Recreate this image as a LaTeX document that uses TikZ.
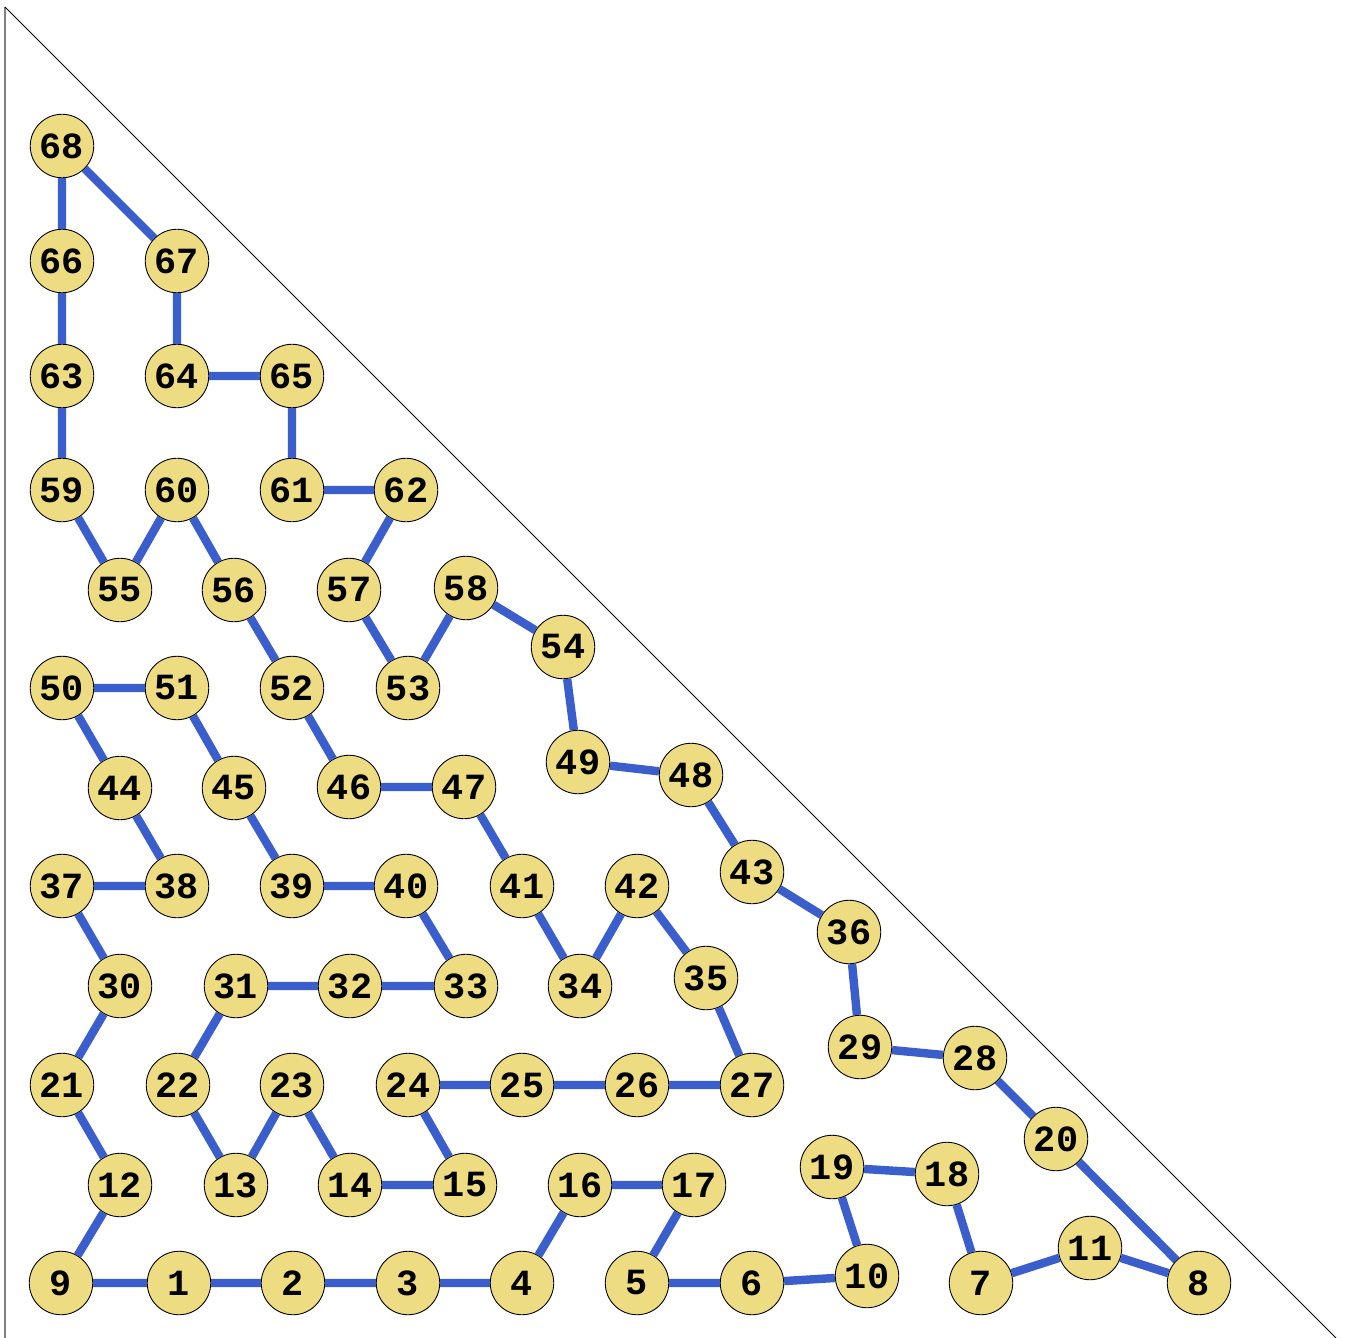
\documentclass[tikz,border=0pt]{standalone}
\usepackage{fontspec}
\setmonofont{Liberation Mono}
\usepackage{tikz}
\definecolor{VertexFill}{HTML}{EEDC82}
\definecolor{TourBlue}{HTML}{3A5FCD}
\definecolor{FrameGray}{gray}{0.5}
\tikzset{
  board/.style={x=0.02cm,y=-0.02cm},
  vertex/.style={circle,draw=black,line width=0.5pt,fill=VertexFill,minimum size=1.27cm,
    inner sep=0pt,font=\ttfamily\bfseries\fontsize{21}{21}\selectfont},
  tour/.style={draw=TourBlue,line width=4.8pt},
}
\begin{document}
\begin{tikzpicture}[board]
  \useasboundingbox (0,0) rectangle (1345,1338);
  \draw[FrameGray,line width=1pt] (5,7) -- (5,1338);
  \draw[black,line width=0.5pt] (5,7) -- (1336,1338);

  % bottom rows
  \node[vertex] (v9) at (61,1283) {9};
  \node[vertex] (v1) at (179,1283) {1};
  \node[vertex] (v2) at (293,1283) {2};
  \node[vertex] (v3) at (408,1283) {3};
  \node[vertex] (v4) at (522,1283) {4};
  \node[vertex] (v5) at (637,1283) {5};
  \node[vertex] (v6) at (752,1283) {6};
  \node[vertex] (v10) at (867,1276) {10};
  \node[vertex] (v7) at (981,1283) {7};
  \node[vertex] (v11) at (1090,1248) {11};
  \node[vertex] (v8) at (1199,1283) {8};
  \node[vertex] (v12) at (120,1185) {12};
  \node[vertex] (v13) at (236,1185) {13};
  \node[vertex] (v14) at (350,1185) {14};
  \node[vertex] (v15) at (465,1185) {15};
  \node[vertex] (v16) at (580,1185) {16};
  \node[vertex] (v17) at (694,1185) {17};
  \node[vertex] (v19) at (832,1167) {19};
  \node[vertex] (v18) at (947,1174) {18};
  \node[vertex] (v20) at (1056,1139) {20};
  \node[vertex] (v21) at (62,1085) {21};
  \node[vertex] (v22) at (178,1085) {22};
  \node[vertex] (v23) at (292,1085) {23};
  \node[vertex] (v24) at (408,1085) {24};
  \node[vertex] (v25) at (522,1085) {25};
  \node[vertex] (v26) at (637,1085) {26};
  \node[vertex] (v27) at (752,1085) {27};
  \node[vertex] (v29) at (860,1047) {29};
  \node[vertex] (v28) at (975,1058) {28};

  % middle rows
  \node[vertex] (v30) at (120,986) {30};
  \node[vertex] (v31) at (236,986) {31};
  \node[vertex] (v32) at (350,986) {32};
  \node[vertex] (v33) at (466,986) {33};
  \node[vertex] (v34) at (580,986) {34};
  \node[vertex] (v35) at (706,978) {35};
  \node[vertex] (v36) at (849,932) {36};
  \node[vertex] (v37) at (62,886) {37};
  \node[vertex] (v38) at (177,886) {38};
  \node[vertex] (v39) at (292,886) {39};
  \node[vertex] (v40) at (406,886) {40};
  \node[vertex] (v41) at (522,886) {41};
  \node[vertex] (v42) at (637,886) {42};
  \node[vertex] (v43) at (752,872) {43};
  \node[vertex] (v44) at (120,788) {44};
  \node[vertex] (v45) at (234,788) {45};
  \node[vertex] (v46) at (349,787) {46};
  \node[vertex] (v47) at (464,787) {47};
  \node[vertex] (v49) at (578,762) {49};
  \node[vertex] (v48) at (691,775) {48};
  \node[vertex] (v50) at (62,688) {50};
  \node[vertex] (v51) at (177,688) {51};
  \node[vertex] (v52) at (292,688) {52};
  \node[vertex] (v53) at (408,688) {53};
  \node[vertex] (v54) at (563,647) {54};

  % top rows
  \node[vertex] (v55) at (120,590) {55};
  \node[vertex] (v56) at (234,590) {56};
  \node[vertex] (v57) at (349,590) {57};
  \node[vertex] (v58) at (466,588) {58};
  \node[vertex] (v59) at (62,490) {59};
  \node[vertex] (v60) at (177,490) {60};
  \node[vertex] (v61) at (292,490) {61};
  \node[vertex] (v62) at (406,490) {62};
  \node[vertex] (v63) at (62,376) {63};
  \node[vertex] (v64) at (177,376) {64};
  \node[vertex] (v65) at (292,376) {65};
  \node[vertex] (v66) at (62,261) {66};
  \node[vertex] (v67) at (177,261) {67};
  \node[vertex] (v68) at (62,146) {68};

  % the closed tour
  \draw[tour] (v68) -- (v66) -- (v63) -- (v59) -- (v55) -- (v60) -- (v56) -- (v52)
    -- (v46) -- (v47) -- (v41) -- (v34) -- (v42) -- (v35) -- (v27) -- (v26) -- (v25)
    -- (v24) -- (v15) -- (v14) -- (v23) -- (v13) -- (v22) -- (v31) -- (v32) -- (v33)
    -- (v40) -- (v39) -- (v45) -- (v51) -- (v50) -- (v44) -- (v38) -- (v37) -- (v30)
    -- (v21) -- (v12) -- (v9) -- (v1) -- (v2) -- (v3) -- (v4) -- (v16) -- (v17)
    -- (v5) -- (v6) -- (v10) -- (v19) -- (v18) -- (v7) -- (v11) -- (v8) -- (v20)
    -- (v28) -- (v29) -- (v36) -- (v43) -- (v48) -- (v49) -- (v54) -- (v58) -- (v53)
    -- (v57) -- (v62) -- (v61) -- (v65) -- (v64) -- (v67) -- (v68);
\end{tikzpicture}
\end{document}
